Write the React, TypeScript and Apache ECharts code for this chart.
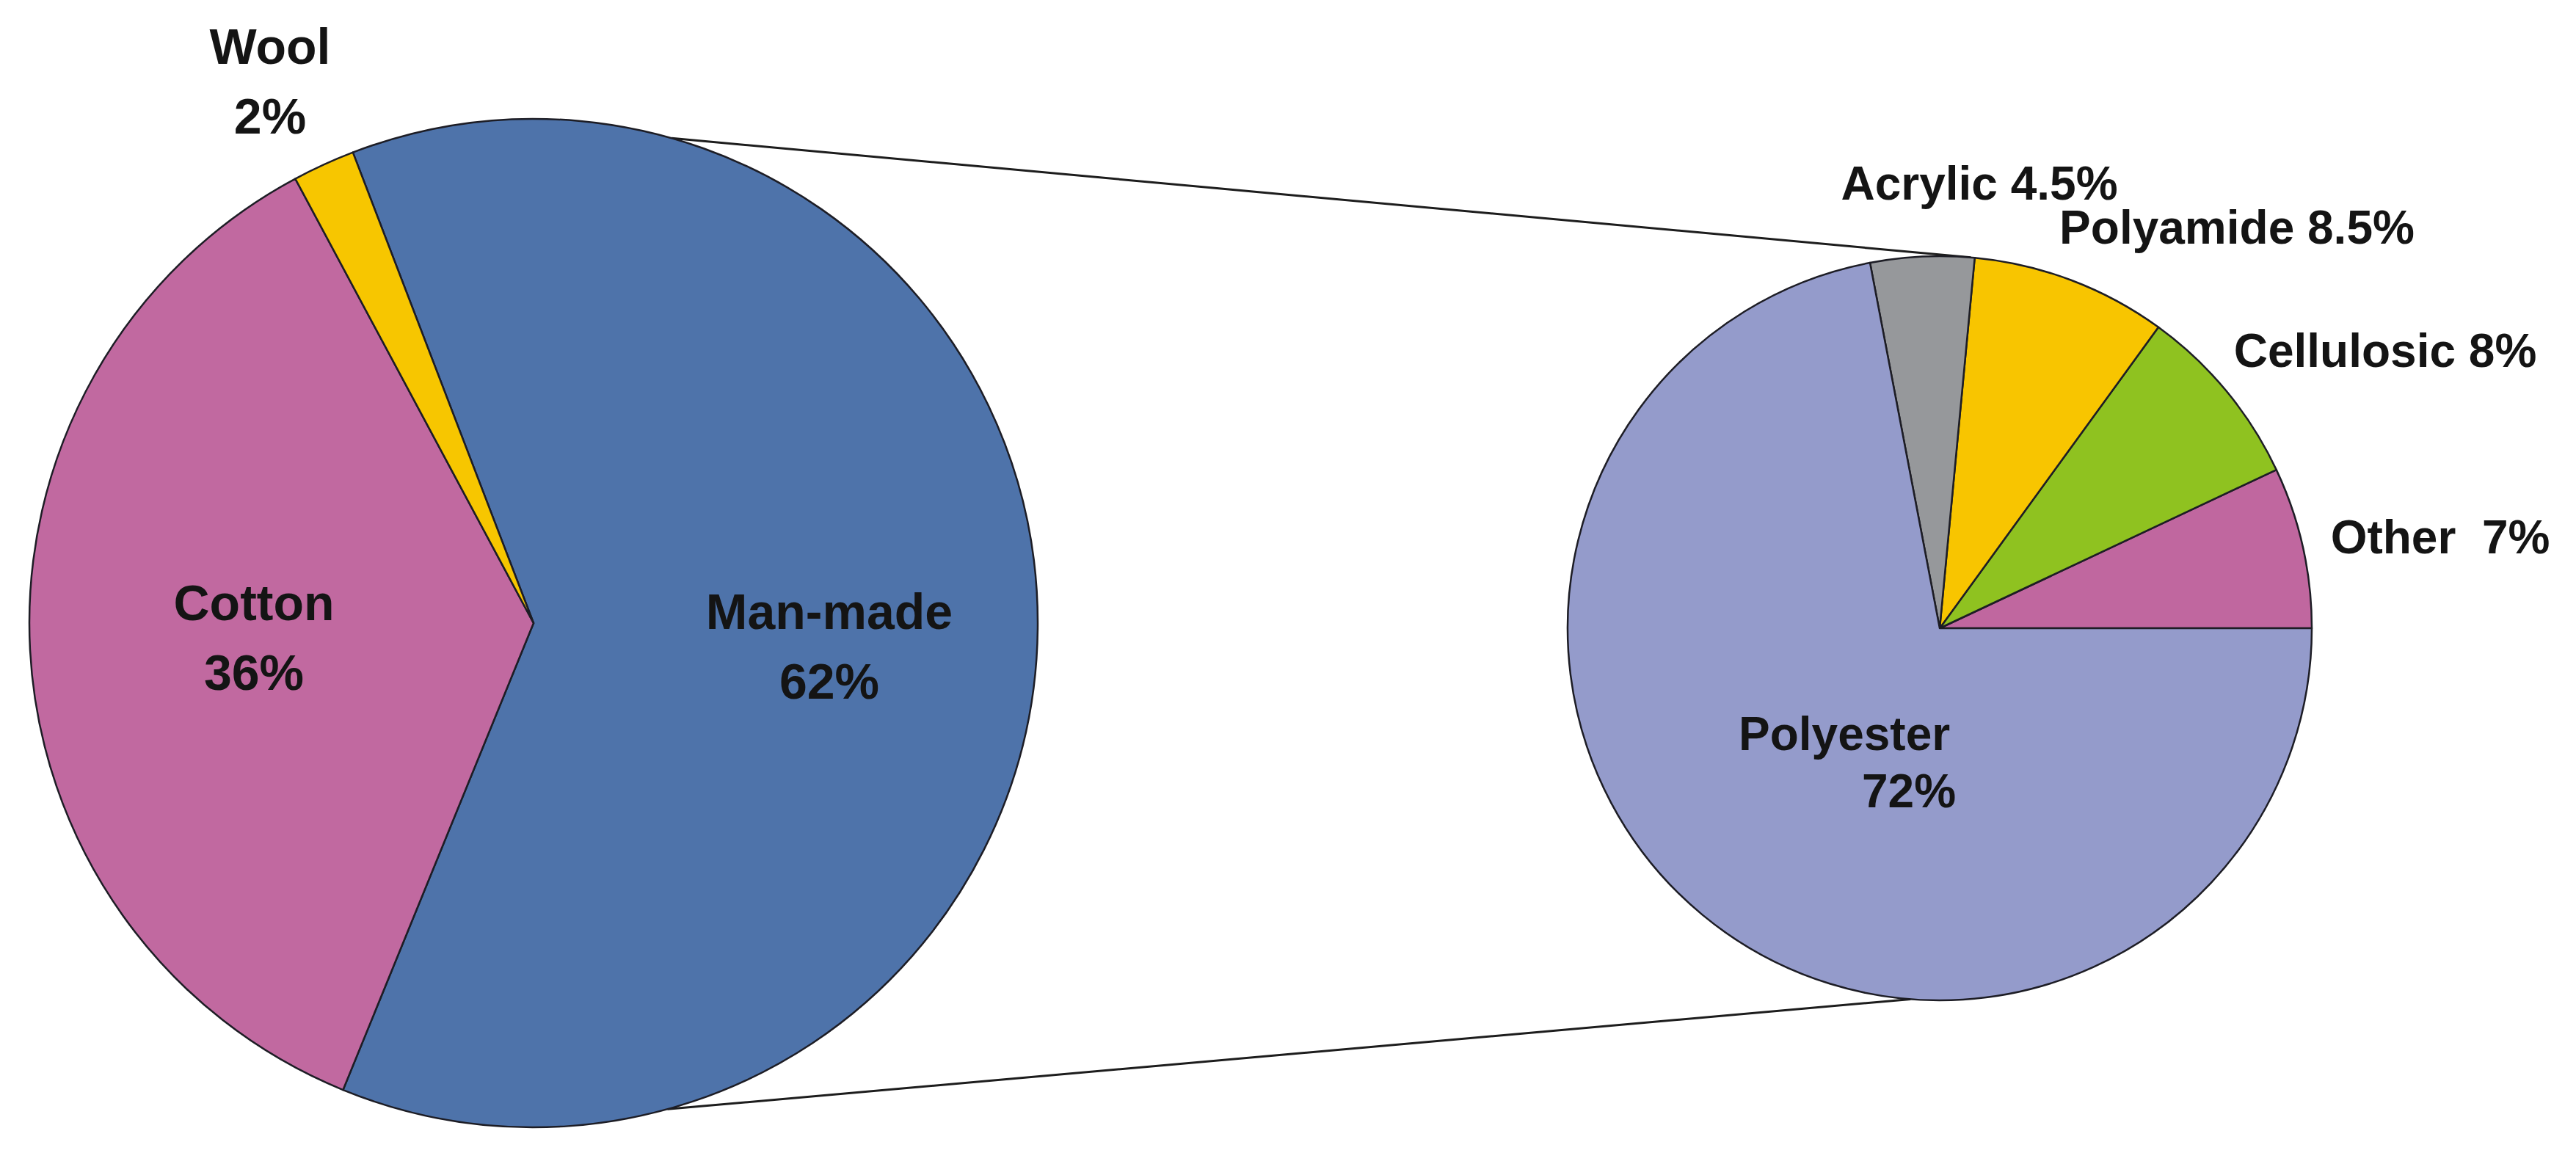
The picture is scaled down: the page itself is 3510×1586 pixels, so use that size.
import React, { useEffect, useRef } from "react";
import * as echarts from "echarts";

// ---- data ----
const FIBRE_NAMES = ["Man-made", "Cotton", "Wool"];
const FIBRE_VALUES = [62, 36, 2];
const FIBRE_COLORS = ["#4E73AA", "#C169A0", "#F7C600"];

const MANMADE_NAMES = ["Other", "Cellulosic", "Polyamide", "Acrylic", "Polyester"];
const MANMADE_VALUES = [7, 8, 8.5, 4.5, 72];
const MANMADE_COLORS = ["#C0679F", "#8FC220", "#F8C500", "#96989B", "#949BCB"];

// ---- layout (pixels) ----
const W = 3510;
const H = 1586;
const LEFT_CENTER = [727, 849];
const LEFT_R = 687;
const RIGHT_CENTER = [2643, 856];
const RIGHT_R = 507;
const LEFT_START = 111;

// label anchor positions [x, y, align]
const LEFT_LABEL_POS: [number, number, string][] = [
  [1130, 880, "center"],
  [346, 868, "center"],
  [368, 110, "center"],
];
const RIGHT_LABEL_POS: [number, number, string][] = [
  [3325, 732, "center"],
  [3250, 478, "center"],
  [3048, 310, "center"],
  [2697, 250, "center"],
  [2369, 1039, "left"],
];

// connector angles (deg, counter-clockwise from 3 o'clock)
const CONNECT_TOP = [74.1, 85.2];
const CONNECT_BOTTOM = [-74.6, -94.5];

const FONT = "'Liberation Sans', Arial, Helvetica, sans-serif";
const NBSP = "\u00A0";

function pt(c: number[], r: number, deg: number) {
  const a = (deg * Math.PI) / 180;
  return [c[0] + r * Math.cos(a), c[1] - r * Math.sin(a)];
}

export default function App() {
  const ref = useRef<HTMLDivElement>(null);
  useEffect(() => {
    if (!ref.current) return;
    const chart = echarts.init(ref.current, null, { renderer: "svg" });

    const t1 = pt(LEFT_CENTER, LEFT_R, CONNECT_TOP[0]);
    const t2 = pt(RIGHT_CENTER, RIGHT_R, CONNECT_TOP[1]);
    const b1 = pt(LEFT_CENTER, LEFT_R, CONNECT_BOTTOM[0]);
    const b2 = pt(RIGHT_CENTER, RIGHT_R, CONNECT_BOTTOM[1]);

    const border = { borderColor: "#1d1d25", borderWidth: 2.5 };
    const txt = { fontWeight: "bold", color: "#141414", fontFamily: FONT };

    chart.setOption({
      animation: false,
      backgroundColor: "#ffffff",
      graphic: [
        {
          type: "line",
          z: 1,
          shape: { x1: t1[0], y1: t1[1], x2: t2[0], y2: t2[1] },
          style: { stroke: "#1d1d1d", lineWidth: 3 },
        },
        {
          type: "line",
          z: 1,
          shape: { x1: b1[0], y1: b1[1], x2: b2[0], y2: b2[1] },
          style: { stroke: "#1d1d1d", lineWidth: 3 },
        },
      ],
      series: [
        {
          type: "pie",
          center: LEFT_CENTER,
          radius: LEFT_R,
          startAngle: LEFT_START,
          clockwise: true,
          avoidLabelOverlap: false,
          emphasis: { disabled: true },
          silent: true,
          z: 3,
          itemStyle: border,
          labelLine: { show: false },
          label: {
            show: true,
            position: "inside",
            fontFamily: FONT,
            formatter: (p: any) => `{n|${p.name}}\n{v|${p.value}%}`,
            rich: {
              n: { ...txt, fontSize: 68, lineHeight: 95 },
              v: { ...txt, fontSize: 68, lineHeight: 95 },
            },
          },
          labelLayout: (p: any) => {
            const pos = LEFT_LABEL_POS[p.dataIndex];
            return { x: pos[0], y: pos[1], align: pos[2], verticalAlign: "middle" };
          },
          data: FIBRE_NAMES.map((n, i) => ({
            name: n,
            value: FIBRE_VALUES[i],
            itemStyle: { color: FIBRE_COLORS[i] },
          })),
        },
        {
          type: "pie",
          center: RIGHT_CENTER,
          radius: RIGHT_R,
          startAngle: 0,
          clockwise: false,
          avoidLabelOverlap: false,
          emphasis: { disabled: true },
          silent: true,
          z: 3,
          itemStyle: border,
          labelLine: { show: false },
          label: {
            show: true,
            position: "inside",
            fontFamily: FONT,
            formatter: (p: any) =>
              p.dataIndex === MANMADE_NAMES.length - 1
                ? `{m|${p.name}}\n{p|${p.value}%}`
                : `{n|${p.name}${p.name === "Other" ? NBSP + NBSP : NBSP}}{v|${p.value}%}`,
            rich: {
              n: { ...txt, fontSize: 64, lineHeight: 56 },
              v: { ...txt, fontSize: 64, lineHeight: 56 },
              m: { ...txt, fontSize: 64, lineHeight: 78 },
              p: { ...txt, fontSize: 64, lineHeight: 78, padding: [0, 0, 0, 168] },
            },
          },
          labelLayout: (p: any) => {
            const pos = RIGHT_LABEL_POS[p.dataIndex];
            return { x: pos[0], y: pos[1], align: pos[2], verticalAlign: "middle" };
          },
          data: MANMADE_NAMES.map((n, i) => ({
            name: n,
            value: MANMADE_VALUES[i],
            itemStyle: { color: MANMADE_COLORS[i] },
          })),
        },
      ],
    });
    return () => chart.dispose();
  }, []);

  return (
    <div
      ref={ref}
      style={{ position: "fixed", left: 0, top: 0, width: W, height: H, background: "#fff" }}
    />
  );
}
